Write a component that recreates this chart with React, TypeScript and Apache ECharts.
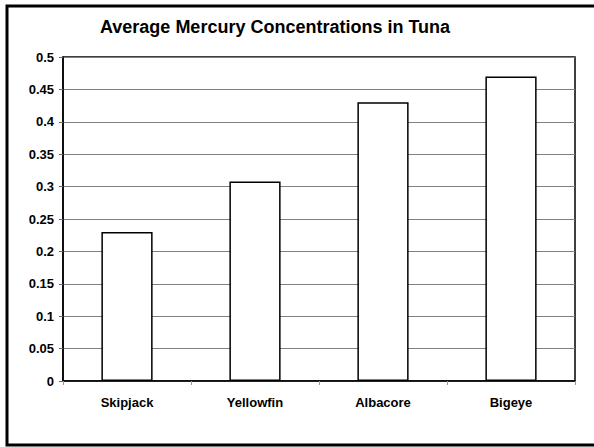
import React, { useEffect, useRef } from "react";
import * as echarts from "echarts";

const categories = ["Skipjack", "Yellowfin", "Albacore", "Bigeye"];
const values = [0.23, 0.308, 0.43, 0.47];
const titleText = "Average Mercury Concentrations in Tuna";

export default function App() {
  const ref = useRef<HTMLDivElement>(null);
  useEffect(() => {
    document.body.style.margin = "0";
    const chart = echarts.init(ref.current!, null, { renderer: "svg" });
    chart.setOption({
      animation: false,
      backgroundColor: "#fff",
      title: {
        text: titleText,
        top: 13,
        left: 95,
        textStyle: { fontFamily: "Liberation Sans, Arial", fontWeight: "bold", fontSize: 18, color: "#000" },
      },
      graphic: [
        {
          type: "rect",
          shape: { x: 7, y: 6, width: 620, height: 439 },
          style: { fill: "none", stroke: "#000", lineWidth: 3 },
          silent: true,
        },
      ],
      grid: { left: 63, right: 19, top: 57, bottom: 66, show: true, borderColor: "#000", borderWidth: 1.5, backgroundColor: "transparent" },
      xAxis: {
        type: "category",
        data: categories,
        axisLine: { lineStyle: { color: "#000", width: 1.5 } },
        axisTick: { show: true, alignWithLabel: false, length: 4, lineStyle: { color: "#999" } },
        axisLabel: { margin: 15, fontFamily: "Liberation Sans, Arial", fontWeight: "bold", fontSize: 13, color: "#000" },
      },
      yAxis: {
        type: "value",
        min: 0,
        max: 0.5,
        interval: 0.05,
        axisLine: { show: true, lineStyle: { color: "#000", width: 1.5 } },
        axisTick: { show: true, length: 4, lineStyle: { color: "#666" } },
        axisLabel: {
          margin: 9,
          fontFamily: "Liberation Sans, Arial",
          fontWeight: "bold",
          fontSize: 13,
          color: "#000",
          formatter: (v: number) => String(Math.round(v * 100) / 100),
        },
        splitLine: { show: true, lineStyle: { color: "#808080", width: 1 } },
      },
      series: [
        {
          type: "bar",
          data: values,
          barWidth: "40%",
          itemStyle: { color: "#fff", borderColor: "#000", borderWidth: 1.5 },
        },
      ],
    });
    return () => chart.dispose();
  }, []);
  return <div ref={ref} style={{ width: 594, height: 447 }} />;
}
